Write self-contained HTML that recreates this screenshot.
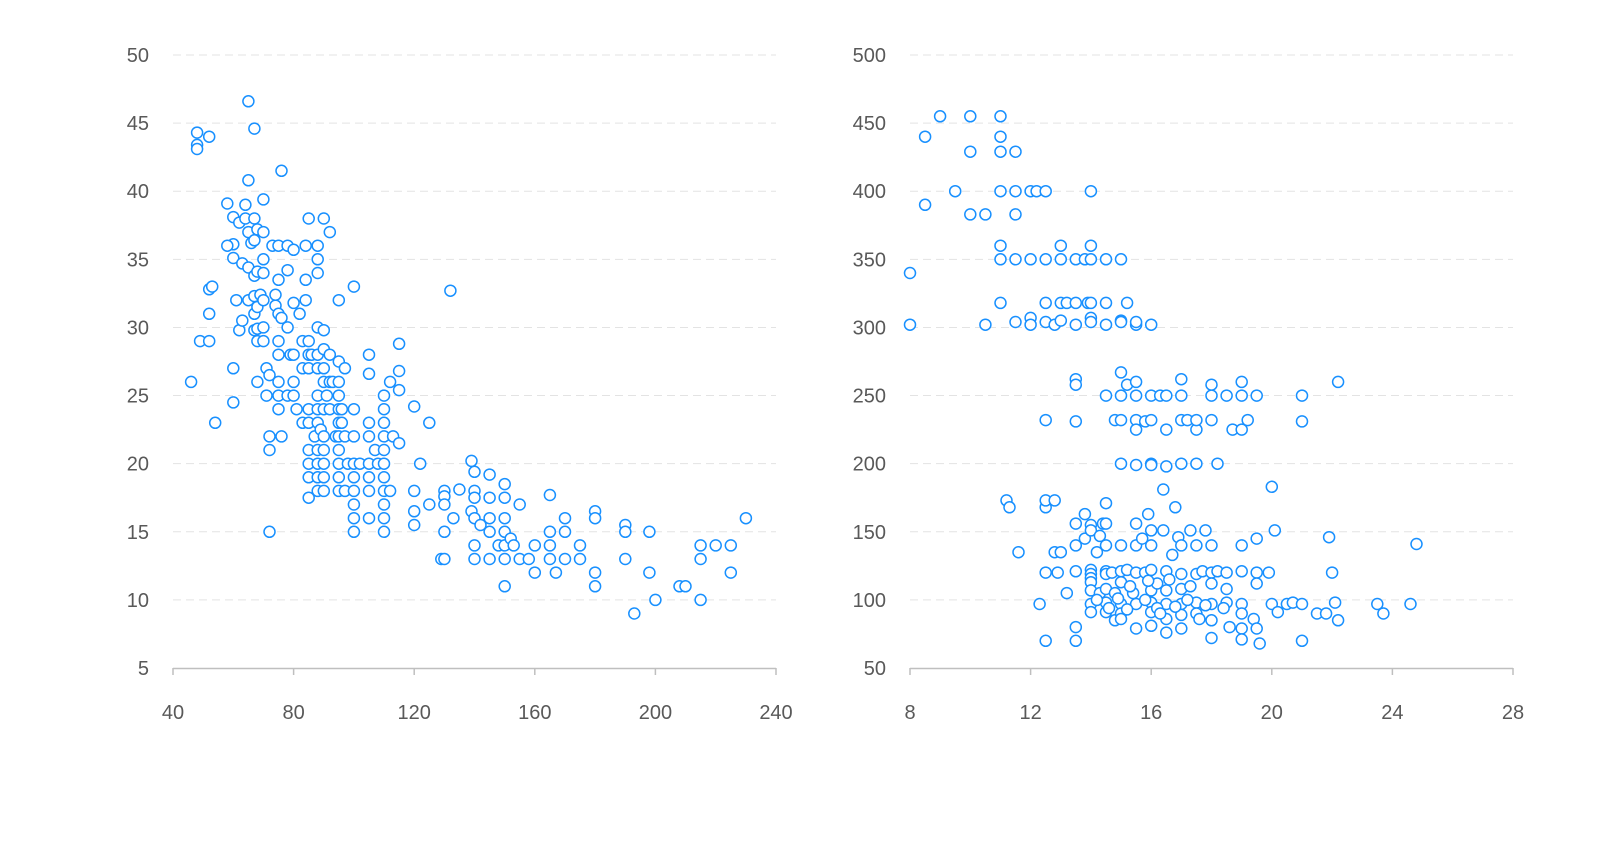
<!DOCTYPE html>
<html><head><meta charset="utf-8"><style>
html,body{margin:0;padding:0;background:#fff;}
svg{display:block;font-family:"Liberation Sans",sans-serif;}
</style></head><body>
<svg id="s" width="1600" height="856" xmlns="http://www.w3.org/2000/svg"></svg>
<script>
var L=[[46,26],[48,44.3],[48,43.4],[48,43.1],[49,29],[52,44],[52,32.8],[53,33],[52,31],[52,29],[54,23],[58,39.1],[60,38.1],[60,36.1],[58,36],[60,35.1],[61,32],[60,27],[60,24.5],[62,29.8],[63,30.5],[63,34.7],[62,37.7],[64,38],[65,46.6],[65,40.8],[64,39],[65,37],[65,34.4],[65,32],[66,36.2],[67,44.6],[67,38],[67,36.4],[67,33.8],[67,32.3],[67,31],[67,29.8],[68,37.2],[68,34.1],[68,31.5],[68,29.9],[68,29],[68,26],[69,32.4],[70,39.4],[70,37],[70,35],[70,34],[70,32],[70,30],[70,29],[71,27],[71,25],[72,26.5],[72,22],[72,21],[72,15],[73,36],[74,31.6],[74,32.4],[75,36],[75,33.5],[75,31],[75,29],[75,28],[75,26],[75,24],[75,25],[76,41.5],[76,30.7],[76,22],[78,30],[78,36],[78,34.2],[78,25],[79,28],[80,35.7],[80,31.8],[80,28],[80,26],[80,25],[81,24],[82,31],[83,23],[83,27],[83,29],[84,33.5],[84,36],[84,32],[85,38],[85,29],[85,28],[85,27],[85,24],[85,23],[85,21],[85,20],[85,19],[85,17.5],[86,28],[87,22],[88,36],[88,35],[88,34],[88,30],[88,28],[88,27],[88,25],[88,24],[88,23],[88,21],[88,20],[88,19],[88,18],[89,22.5],[90,38],[90,29.8],[90,28.4],[90,27],[90,26],[90,24],[90,22],[90,21],[90,20],[90,19],[90,18],[91,25],[92,37],[92,28],[92,26],[92,24],[93,26],[94,22],[95,32],[95,27.5],[95,26],[95,25],[95,24],[95,23],[95,22],[95,21],[95,20],[95,19],[95,18],[96,24],[96,23],[97,27],[97,22],[97,18],[98,20],[100,33],[100,24],[100,22],[100,20],[100,19],[100,18],[100,17],[100,16],[100,15],[102,20],[105,28],[105,26.6],[105,23],[105,22],[105,20],[105,19],[105,18],[105,16],[107,21],[108,20],[110,25],[110,24],[110,23],[110,22],[110,21],[110,20],[110,19],[110,18],[110,17],[110,16],[110,15],[112,26],[112,18],[113,22],[115,28.8],[115,26.8],[115,25.4],[115,21.5],[120,24.2],[120,18],[120,16.5],[120,15.5],[122,20],[125,23],[125,17],[129,13],[130,18],[130,17.6],[130,17],[130,15],[130,13],[132,32.7],[133,16],[135,18.1],[139,20.2],[139,16.5],[140,19.4],[140,18],[140,17.5],[140,16],[140,14],[140,13],[142,15.5],[145,19.2],[145,17.5],[145,16],[145,15],[145,13],[148,14],[150,18.5],[150,17.5],[150,16],[150,15],[150,14],[150,13],[150,11],[152,14.5],[153,14],[155,13],[155,17],[158,13],[160,14],[160,12],[165,17.7],[165,15],[165,14],[165,13],[167,12],[170,16],[170,15],[170,13],[175,14],[175,13],[180,16.5],[180,16],[180,12],[180,11],[190,15.5],[190,15],[190,13],[193,9],[198,15],[198,12],[200,10],[208,11],[210,11],[215,14],[215,13],[215,10],[220,14],[225,14],[225,12],[230,16]];
var R=[[8,340],[8,302],[8.5,440],[8.5,390],[9,455],[9.5,400],[10,455],[10,429],[10,383],[10.5,383],[10.5,302],[11,455],[11,440],[11,429],[11,400],[11,360],[11,350],[11,318],[11.5,429],[11.5,400],[11.5,383],[11.5,350],[11.5,304],[11.2,173],[11.3,168],[11.6,135],[12,400],[12,350],[12,307],[12,302],[12.2,400],[12.5,400],[12.5,350],[12.5,318],[12.5,304],[12.8,302],[13,360],[13,350],[13,318],[13,305],[13.2,318],[13.5,350],[13.5,318],[13.5,302],[13.8,350],[13.9,318],[14,400],[14,360],[14,350],[14,318],[14,307],[14,304],[14.5,350],[14.5,318],[14.5,302],[15,350],[15,305],[15.2,318],[15.5,302],[16,302],[15,304],[15.5,304],
[12.5,232],[13.5,231],[13.5,262],[13.5,258],[14.5,250],[14.8,232],[15,267],[15,250],[15,232],[15.2,258],[15.5,260],[15.5,250],[15.5,232],[15.5,225],[15.8,231],[16,250],[16,232],[16,200],[16.3,250],[16.5,250],[16.5,225],[17,262],[17,250],[17,232],[17.2,232],[17.5,225],[17.5,232],[18,258],[18,250],[18,232],[18.5,250],[18.7,225],[19,260],[19,250],[19,225],[19.5,250],[19.2,232],[21,250],[21,231],[22.2,260],[15,200],[15.5,199],[16,199],[16.5,198],[17,200],[17.5,200],[18.2,200],[16.4,181],[16.8,168],[20,183],[14.5,171],[12.5,168],[12.5,173],[12.8,173],
[12.3,97],[12.5,120],[12.5,70],[12.8,135],[12.9,120],[13,135],[13.2,105],[13.5,156],[13.5,140],[13.5,121],[13.5,80],[13.5,70],[13.8,163],[13.8,145],[14,155],[14,151],[14,122],[14,119],[14,116],[14,113],[14,107],[14,97],[14,91],[14.2,135],[14.3,147],[14.3,105],[14.4,156],[14.5,156],[14.5,140],[14.5,121],[14.5,119],[14.5,108],[14.5,98],[14.5,91],[14.7,120],[14.8,105],[14.8,85],[15,140],[15,121],[15,113],[15,97],[15,90],[15,86],[15.2,122],[15.4,105],[15.5,156],[15.5,140],[15.5,120],[15.5,97],[15.5,79],[15.7,145],[15.8,120],[15.9,163],[16,151],[16,140],[16,122],[16,107],[16,98],[16,91],[16,81],[16.2,112],[16.4,151],[16.5,121],[16.5,107],[16.5,97],[16.5,86],[16.5,76],[16.7,133],[16.9,146],[17,140],[17,119],[17,108],[17,97],[17,89],[17,79],[17.3,151],[17.5,140],[17.5,119],[17.5,98],[17.5,90],[17.7,121],[17.8,151],[18,140],[18,120],[18,112],[18,97],[18,85],[18,72],[18.2,121],[18.5,120],[18.5,108],[18.5,98],[18.6,80],[19,140],[19,121],[19,97],[19,90],[19,79],[19,71],[19.4,86],[19.5,145],[19.5,120],[19.5,112],[19.5,79],[19.6,68],[19.9,120],[20,97],[20.1,151],[20.2,91],[20.5,97],[20.7,98],[21,97],[21,70],[21.5,90],[21.8,90],[21.9,146],[22,120],[22.1,98],[22.2,85],[23.5,97],[23.7,90],[24.6,97],[24.8,141],
[14.2,100],[14.6,94],[15.2,93],[15.8,100],[16.2,94],[16.8,95],[17.2,100],[17.8,96],[18.4,94],[15.3,110],[15.9,114],[16.6,115],[17.3,110],[14.9,101],[16.3,90],[17.6,86]];
var h='';
function chart(x0,x1,xmin,xmax,xstep,ymin,ymax,ystep,data){
 var y0=668,y1=55;
 function X(v){return x0+(v-xmin)/(xmax-xmin)*(x1-x0);}
 function Y(v){return y0-(v-ymin)/(ymax-ymin)*(y0-y1);}
 for(var v=ymin;v<=ymax+1e-9;v+=ystep){var y=Y(v);
  if(v>ymin)h+='<line x1="'+x0+'" x2="'+x1+'" y1="'+y+'" y2="'+y+'" stroke="#e3e3e3" stroke-width="1" stroke-dasharray="8,5"/>';
  h+='<text x="'+(x0-24)+'" y="'+(y+7)+'" text-anchor="end" font-size="20" fill="#595959">'+v+'</text>';}
 h+='<line x1="'+x0+'" x2="'+x1+'" y1="668.5" y2="668.5" stroke="#bfbfbf" stroke-width="1.5"/>';
 for(var v=xmin;v<=xmax+1e-9;v+=xstep){var x=X(v);
  h+='<line x1="'+x+'" x2="'+x+'" y1="668" y2="675" stroke="#bfbfbf" stroke-width="1.5"/>';
  h+='<text x="'+x+'" y="719" text-anchor="middle" font-size="20" fill="#595959">'+v+'</text>';}
 data.forEach(function(d){h+='<circle cx="'+X(d[0]).toFixed(1)+'" cy="'+Y(d[1]).toFixed(1)+'" r="5.5" fill="#fff" stroke="#1890ff" stroke-width="1.5"/>';});
}
chart(173,776,40,240,40,5,50,5,L);
chart(910,1513,8,28,4,50,500,50,R);
document.getElementById('s').innerHTML=h;
</script>
</body></html>
